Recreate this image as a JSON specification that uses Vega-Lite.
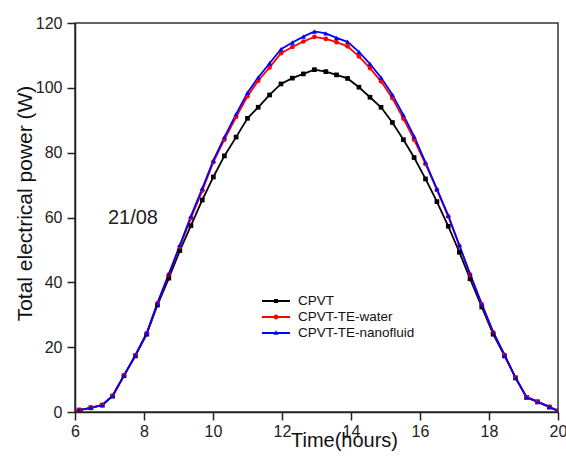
{
  "$schema": "https://vega.github.io/schema/vega-lite/v6.json",
  "width": 483,
  "height": 389,
  "autosize": {"type": "none"},
  "padding": {"left": 75, "top": 23, "right": 8, "bottom": 50},
  "background": "white",
  "config": {
    "font": "Liberation Sans",
    "view": {"stroke": "#333", "strokeWidth": 1.5},
    "axis": {
      "grid": false,
      "domainColor": "#222",
      "domainWidth": 1.5,
      "tickColor": "#222",
      "tickWidth": 1.5,
      "labelFont": "Liberation Sans",
      "labelFontSize": 16,
      "labelColor": "#222",
      "titleFont": "Liberation Sans",
      "titleColor": "#111",
      "titleFontWeight": "normal"
    }
  },
  "datasets": {
    "power": [
      {"t": 6.00, "CPVT": 0.2, "CPVT-TE-water": 0.2, "CPVT-TE-nanofluid": 0.2},
      {"t": 6.12, "CPVT": 0.6, "CPVT-TE-water": 0.6, "CPVT-TE-nanofluid": 0.6},
      {"t": 6.46, "CPVT": 1.3, "CPVT-TE-water": 1.3, "CPVT-TE-nanofluid": 1.3},
      {"t": 6.79, "CPVT": 2.1, "CPVT-TE-water": 2.2, "CPVT-TE-nanofluid": 2.2},
      {"t": 7.09, "CPVT": 4.9, "CPVT-TE-water": 5.0, "CPVT-TE-nanofluid": 5.0},
      {"t": 7.42, "CPVT": 11.2, "CPVT-TE-water": 11.3, "CPVT-TE-nanofluid": 11.3},
      {"t": 7.75, "CPVT": 17.3, "CPVT-TE-water": 17.5, "CPVT-TE-nanofluid": 17.5},
      {"t": 8.08, "CPVT": 24.0, "CPVT-TE-water": 24.3, "CPVT-TE-nanofluid": 24.4},
      {"t": 8.39, "CPVT": 33.0, "CPVT-TE-water": 33.5, "CPVT-TE-nanofluid": 33.6},
      {"t": 8.72, "CPVT": 41.3, "CPVT-TE-water": 42.4, "CPVT-TE-nanofluid": 42.6},
      {"t": 9.04, "CPVT": 49.8, "CPVT-TE-water": 51.0, "CPVT-TE-nanofluid": 51.5},
      {"t": 9.36, "CPVT": 57.5, "CPVT-TE-water": 59.8, "CPVT-TE-nanofluid": 60.4},
      {"t": 9.69, "CPVT": 65.4, "CPVT-TE-water": 68.3, "CPVT-TE-nanofluid": 69.0},
      {"t": 10.01, "CPVT": 72.5, "CPVT-TE-water": 77.1, "CPVT-TE-nanofluid": 77.6},
      {"t": 10.33, "CPVT": 79.0, "CPVT-TE-water": 84.0, "CPVT-TE-nanofluid": 84.8},
      {"t": 10.67, "CPVT": 84.8, "CPVT-TE-water": 91.0, "CPVT-TE-nanofluid": 91.9},
      {"t": 11.00, "CPVT": 90.6, "CPVT-TE-water": 97.4, "CPVT-TE-nanofluid": 98.5},
      {"t": 11.31, "CPVT": 94.0, "CPVT-TE-water": 102.2, "CPVT-TE-nanofluid": 103.2},
      {"t": 11.64, "CPVT": 97.8, "CPVT-TE-water": 106.3, "CPVT-TE-nanofluid": 107.6},
      {"t": 11.97, "CPVT": 101.2, "CPVT-TE-water": 110.7, "CPVT-TE-nanofluid": 111.9},
      {"t": 12.30, "CPVT": 103.0, "CPVT-TE-water": 112.6, "CPVT-TE-nanofluid": 114.0},
      {"t": 12.62, "CPVT": 104.3, "CPVT-TE-water": 114.3, "CPVT-TE-nanofluid": 115.8},
      {"t": 12.94, "CPVT": 105.6, "CPVT-TE-water": 115.7, "CPVT-TE-nanofluid": 117.4},
      {"t": 13.27, "CPVT": 105.0, "CPVT-TE-water": 115.1, "CPVT-TE-nanofluid": 116.8},
      {"t": 13.58, "CPVT": 104.0, "CPVT-TE-water": 114.1, "CPVT-TE-nanofluid": 115.4},
      {"t": 13.90, "CPVT": 102.9, "CPVT-TE-water": 112.8, "CPVT-TE-nanofluid": 114.2},
      {"t": 14.23, "CPVT": 100.2, "CPVT-TE-water": 109.7, "CPVT-TE-nanofluid": 111.1},
      {"t": 14.55, "CPVT": 97.1, "CPVT-TE-water": 106.1, "CPVT-TE-nanofluid": 107.4},
      {"t": 14.87, "CPVT": 94.0, "CPVT-TE-water": 102.0, "CPVT-TE-nanofluid": 103.2},
      {"t": 15.20, "CPVT": 89.3, "CPVT-TE-water": 96.8, "CPVT-TE-nanofluid": 97.9},
      {"t": 15.52, "CPVT": 84.0, "CPVT-TE-water": 90.5, "CPVT-TE-nanofluid": 91.6},
      {"t": 15.83, "CPVT": 78.5, "CPVT-TE-water": 84.0, "CPVT-TE-nanofluid": 85.0},
      {"t": 16.16, "CPVT": 71.9, "CPVT-TE-water": 76.5, "CPVT-TE-nanofluid": 77.0},
      {"t": 16.49, "CPVT": 64.9, "CPVT-TE-water": 68.5, "CPVT-TE-nanofluid": 68.8},
      {"t": 16.82, "CPVT": 57.3, "CPVT-TE-water": 60.3, "CPVT-TE-nanofluid": 60.6},
      {"t": 17.14, "CPVT": 49.3, "CPVT-TE-water": 51.2, "CPVT-TE-nanofluid": 51.5},
      {"t": 17.45, "CPVT": 41.1, "CPVT-TE-water": 42.4, "CPVT-TE-nanofluid": 42.6},
      {"t": 17.79, "CPVT": 32.4, "CPVT-TE-water": 33.2, "CPVT-TE-nanofluid": 33.3},
      {"t": 18.12, "CPVT": 24.0, "CPVT-TE-water": 24.6, "CPVT-TE-nanofluid": 24.7},
      {"t": 18.45, "CPVT": 17.3, "CPVT-TE-water": 17.6, "CPVT-TE-nanofluid": 17.6},
      {"t": 18.77, "CPVT": 10.5, "CPVT-TE-water": 10.6, "CPVT-TE-nanofluid": 10.6},
      {"t": 19.09, "CPVT": 4.5, "CPVT-TE-water": 4.6, "CPVT-TE-nanofluid": 4.6},
      {"t": 19.41, "CPVT": 3.1, "CPVT-TE-water": 3.2, "CPVT-TE-nanofluid": 3.2},
      {"t": 19.75, "CPVT": 1.5, "CPVT-TE-water": 1.6, "CPVT-TE-nanofluid": 1.6},
      {"t": 20.00, "CPVT": 0.3, "CPVT-TE-water": 0.3, "CPVT-TE-nanofluid": 0.3}
    ],
    "note": [{"t": 7.68, "p": 60, "label": "21/08"}]
  },
  "layer": [
    {
      "data": {"name": "power"},
      "transform": [{"fold": ["CPVT", "CPVT-TE-water", "CPVT-TE-nanofluid"], "as": ["series", "p"]}],
      "mark": {"type": "line", "strokeWidth": 1.8, "clip": true},
      "encoding": {
        "x": {
          "field": "t", "type": "quantitative",
          "scale": {"domain": [6, 20], "nice": false, "zero": false},
          "axis": {
            "values": [6, 7, 8, 9, 10, 11, 12, 13, 14, 15, 16, 17, 18, 19, 20],
            "labelExpr": "datum.value % 2 === 0 ? datum.label : ''",
            "tickSize": {"condition": {"test": "datum.value % 2 === 0", "value": 8}, "value": 4},
            "labelPadding": 3,
            "labelFlush": false,
            "labelOverlap": false,
            "title": "Time(hours)",
            "titleFontSize": 20,
            "titleX": 269,
            "titleY": 34,
            "titleAlign": "center",
            "titleBaseline": "alphabetic"
          }
        },
        "y": {
          "field": "p", "type": "quantitative",
          "scale": {"domain": [0, 120], "nice": false},
          "axis": {
            "values": [0, 10, 20, 30, 40, 50, 60, 70, 80, 90, 100, 110, 120],
            "labelExpr": "datum.value % 20 === 0 ? datum.label : ''",
            "tickSize": {"condition": {"test": "datum.value % 20 === 0", "value": 8}, "value": 4},
            "labelPadding": 5,
            "labelFlush": false,
            "labelOverlap": false,
            "title": "Total electrical power (W)",
            "titleFontSize": 21,
            "titleX": -43.5,
            "titleY": 180,
            "titleAngle": -90,
            "titleAlign": "center",
            "titleBaseline": "alphabetic"
          }
        },
        "color": {
          "field": "series", "type": "nominal",
          "scale": {"domain": ["CPVT", "CPVT-TE-water", "CPVT-TE-nanofluid"], "range": ["#000000", "#ff0000", "#0000ff"]},
          "legend": {
            "orient": "none",
            "legendX": 194,
            "legendY": 271,
            "title": null,
            "padding": 0,
            "symbolSize": 196,
            "labelOffset": 15,
            "labelFontSize": 13.5,
            "labelFont": "Liberation Sans",
            "labelColor": "#111",
            "rowPadding": 2,
            "encode": {
              "symbols": {
                "update": {
                  "shape": {"signal": "datum.value === 'CPVT' ? 'M-2,-0.13H2V0.13H-2Z M-0.3,-0.3H0.3V0.3H-0.3Z' : datum.value === 'CPVT-TE-water' ? 'M-2,-0.13H2V0.13H-2Z M-0.34,0A0.34,0.34 0 1,1 0.34,0A0.34,0.34 0 1,1 -0.34,0Z' : 'M-2,-0.13H2V0.13H-2Z M0,-0.38L0.36,0.26H-0.36Z'"},
                  "fill": {"signal": "scale('color', datum.value)"},
                  "fillOpacity": {"value": 1},
                  "strokeWidth": {"value": 0}
                }
              }
            }
          }
        }
      }
    },
    {
      "data": {"name": "power"},
      "mark": {"type": "point", "filled": true, "opacity": 1, "size": 22, "shape": "square", "color": "#000000", "clip": true},
      "encoding": {
        "x": {"field": "t", "type": "quantitative"},
        "y": {"field": "CPVT", "type": "quantitative"}
      }
    },
    {
      "data": {"name": "power"},
      "mark": {"type": "point", "filled": true, "opacity": 1, "size": 22, "shape": "circle", "color": "#ff0000", "clip": true},
      "encoding": {
        "x": {"field": "t", "type": "quantitative"},
        "y": {"field": "CPVT-TE-water", "type": "quantitative"}
      }
    },
    {
      "data": {"name": "power"},
      "mark": {"type": "point", "filled": true, "opacity": 1, "size": 26, "shape": "triangle-up", "color": "#0000ff", "clip": true},
      "encoding": {
        "x": {"field": "t", "type": "quantitative"},
        "y": {"field": "CPVT-TE-nanofluid", "type": "quantitative"}
      }
    },
    {
      "data": {"name": "note"},
      "mark": {"type": "text", "fontSize": 20, "font": "Liberation Sans", "color": "#222", "align": "center", "baseline": "middle"},
      "encoding": {
        "x": {"field": "t", "type": "quantitative"},
        "y": {"field": "p", "type": "quantitative"},
        "text": {"field": "label"}
      }
    }
  ]
}
